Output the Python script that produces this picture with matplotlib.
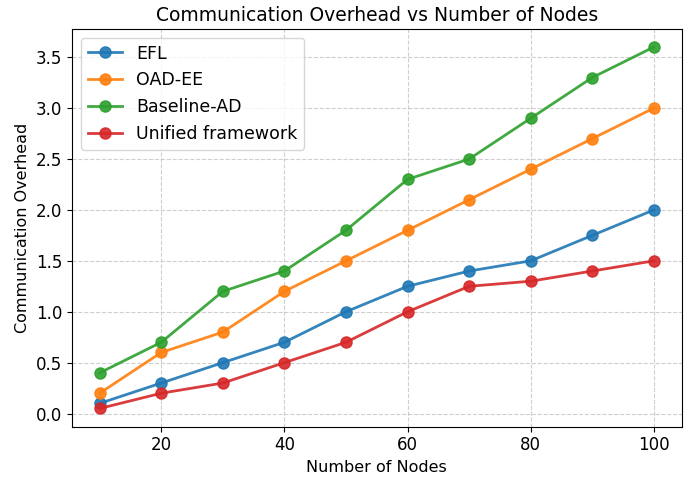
import matplotlib
matplotlib.use("Agg")
import matplotlib.pyplot as plt

nodes = [10, 20, 30, 40, 50, 60, 70, 80, 90, 100]
efl = [0.1, 0.3, 0.5, 0.7, 1.0, 1.25, 1.4, 1.5, 1.75, 2.0]
oad_ee = [0.2, 0.6, 0.8, 1.2, 1.5, 1.8, 2.1, 2.4, 2.7, 3.0]
baseline_ad = [0.4, 0.7, 1.2, 1.4, 1.8, 2.3, 2.5, 2.9, 3.3, 3.6]
unified = [0.05, 0.2, 0.3, 0.5, 0.7, 1.0, 1.25, 1.3, 1.4, 1.5]

plt.rcParams['font.size'] = 11.5
fig, ax = plt.subplots(figsize=(6.85, 4.82), dpi=100)

ax.plot(nodes, efl, 'o-', label="EFL", markersize=8, linewidth=2, alpha=0.9)
ax.plot(nodes, oad_ee, 'o-', label="OAD-EE", markersize=8, linewidth=2, alpha=0.9)
ax.plot(nodes, baseline_ad, 'o-', label="Baseline-AD", markersize=8, linewidth=2, alpha=0.9)
ax.plot(nodes, unified, 'o-', label="Unified framework", markersize=8, linewidth=2, alpha=0.9)

ax.set_title('Communication Overhead vs Number of Nodes', fontsize=13.5)
ax.set_xlabel('Number of Nodes', fontsize=11.5)
ax.set_ylabel('Communication Overhead', fontsize=11.5)
ax.tick_params(labelsize=12)
ax.grid(True, linestyle='--', alpha=0.6)
ax.legend(loc='upper left', fontsize=12.5)

fig.subplots_adjust(left=0.105, right=0.995, top=0.94, bottom=0.115)
fig.savefig('out.png')
